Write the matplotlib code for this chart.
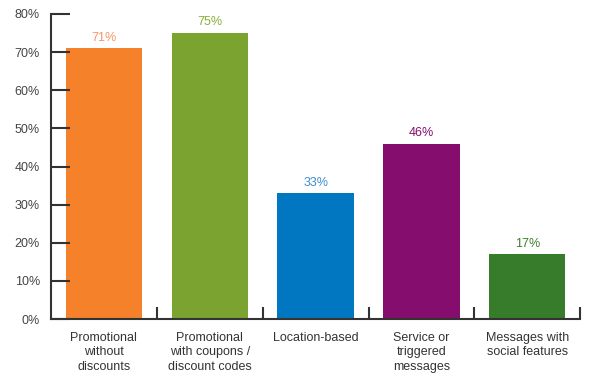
import matplotlib.pyplot as plt
import numpy as np

categories = ["Promotional\nwithout\ndiscounts", "Promotional\nwith coupons /\ndiscount codes",
              "Location-based", "Service or\ntriggered\nmessages", "Messages with\nsocial features"]
values = [71, 75, 33, 46, 17]
bar_colors = ["#F5812A", "#7BA32F", "#0077C0", "#850D6E", "#367C2B"]
label_colors = ["#F7946A", "#8AAD3F", "#3E8ED0", "#850D6E", "#3F7F2F"]
yticks = [0, 10, 20, 30, 40, 50, 60, 70, 80]

plt.rcParams['font.family'] = ['Liberation Sans', 'DejaVu Sans']

fig = plt.figure(figsize=(6, 3.78), dpi=100)
ax = fig.add_axes([0.085, 0.156, 0.882, 0.807])

x = np.arange(len(categories))
ax.bar(x, values, width=0.72, color=bar_colors)
for xi, v, c in zip(x, values, label_colors):
    ax.text(xi, v + 1.2, "%d%%" % v, ha='center', va='bottom', color=c, fontsize=9)

ax.set_xlim(-0.5, len(categories) - 0.5)
ax.set_ylim(0, 80)
ax.set_yticks(yticks)
ax.set_yticklabels(["%d%%" % t for t in yticks])
ax.set_xticks(x)
ax.set_xticklabels(categories, linespacing=1.3)
ax.set_xticks(np.arange(len(categories)) + 0.5, minor=True)

for s in ['top', 'right']:
    ax.spines[s].set_visible(False)
for s in ['left', 'bottom']:
    ax.spines[s].set_linewidth(1.5)
    ax.spines[s].set_color('#333333')

ax.tick_params(axis='y', direction='in', length=14, width=1.5, color='#333333',
               labelsize=9, labelcolor='#444444', pad=8)
ax.tick_params(axis='x', which='major', length=0, labelsize=9, labelcolor='#333333', pad=9)
ax.tick_params(axis='x', which='minor', direction='in', length=9, width=1.5, color='#333333')

fig.savefig("out.png", dpi=100)
